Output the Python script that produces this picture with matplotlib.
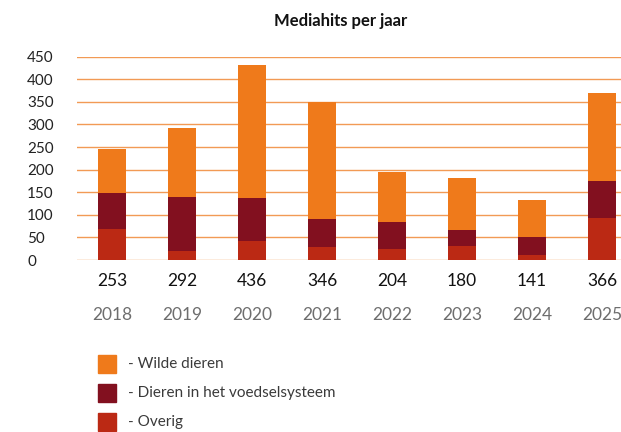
import matplotlib
matplotlib.use('Agg')
import matplotlib.pyplot as plt
from matplotlib.patches import Rectangle
import numpy as np

# data
years = ['2018', '2019', '2020', '2021', '2022', '2023', '2024', '2025']
totals = ['253', '292', '436', '346', '204', '180', '141', '366']
overig = [69, 20, 42, 29, 24, 31, 11, 93]
voedsel = [79, 119, 95, 62, 60, 35, 40, 82]
wild = [98, 153, 294, 258, 111, 115, 82, 195]
series_names = ['- Wilde dieren', '- Dieren in het voedselsysteem', '- Overig']
colors = ['#EF7A1B', '#82101F', '#BB2914']
yticks = [0, 50, 100, 150, 200, 250, 300, 350, 400, 450]

plt.rcParams['font.family'] = ['Lato', 'DejaVu Sans']

W, H = 621, 432
fig = plt.figure(figsize=(W / 100, H / 100), dpi=100)
ax = fig.add_axes([77 / W, (H - 260) / H, 1 - 77 / W, 203.3 / H])

x = np.arange(len(years))
ov = np.array(overig)
vo = np.array(voedsel)
wi = np.array(wild)
ax.bar(x, ov, width=0.4, color=colors[2], zorder=3)
ax.bar(x, vo, width=0.4, bottom=ov, color=colors[1], zorder=3)
ax.bar(x, wi, width=0.4, bottom=ov + vo, color=colors[0], zorder=3)

ax.set_xlim(-0.5, (W - 77) / 70 - 0.5)
ax.set_ylim(0, 450)
ax.set_yticks(yticks)
ax.set_yticklabels([str(v) for v in yticks], ha='left', fontsize=11, color='#222222')
ax.tick_params(axis='y', length=0, pad=36)
ax.set_xticks([])
for s in ax.spines.values():
    s.set_visible(False)
ax.grid(axis='y', color='#F29A55', linewidth=1.0, zorder=0)
ax.set_axisbelow(True)

for i in range(len(years)):
    ax.annotate(totals[i], xy=(x[i], 0), xycoords=('data', 'axes fraction'),
                xytext=(0, -15), textcoords='offset points',
                ha='center', va='center', fontsize=12.5, color='#111111')
    ax.annotate(years[i], xy=(x[i], 0), xycoords=('data', 'axes fraction'),
                xytext=(0, -39.5), textcoords='offset points',
                ha='center', va='center', fontsize=12.5, color='#6E6E6E')

fig.text(341 / W, 1 - 21 / H, 'Mediahits per jaar', ha='center', va='center',
         fontsize=12, fontweight='bold', color='#111111')

# legend
rows = [364, 393, 422]
for name, c, yc in zip(series_names, colors, rows):
    fig.add_artist(Rectangle((98 / W, 1 - (yc + 9) / H), 18 / W, 18 / H,
                             transform=fig.transFigure, color=c))
    fig.text(128 / W, 1 - yc / H, name, ha='left', va='center',
             fontsize=11, color='#3A3A3A')

fig.savefig('out.png', dpi=100)
